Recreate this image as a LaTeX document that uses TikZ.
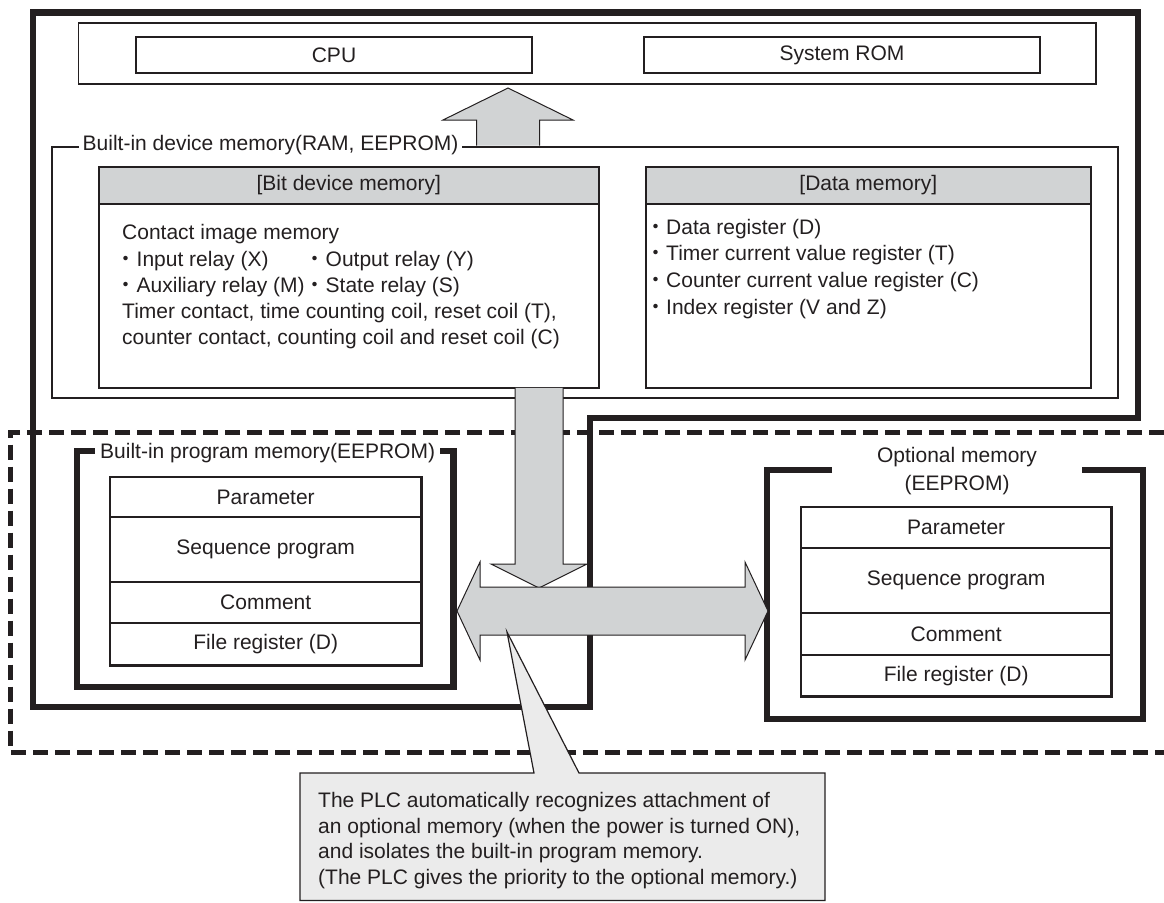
\documentclass[tikz,border=0pt]{standalone}
\usepackage{fontspec}
\setmainfont{Liberation Sans}
\newfontfamily\cjkfont{Noto Sans CJK JP}
\newcommand{\nakaguro}{{\cjkfont ・}}
\definecolor{ink}{HTML}{231F20}
\definecolor{blockgray}{HTML}{D1D3D4}
\definecolor{notegray}{HTML}{EBEBEB}

\tikzset{
  every node/.style={font=\fontsize{21}{26}\selectfont, text=ink, inner sep=0pt},
  heavyline/.style={draw=ink, line width=6.5pt},
  busline/.style={draw=ink, line width=5pt, dash pattern=on 15pt off 7pt},
  thinbox/.style={draw=ink, line width=1.3pt},
  areabox/.style={draw=ink, line width=2.6pt},
  membox/.style={draw=ink, line width=1.6pt},
  cellbox/.style={draw=ink, line width=2.4pt},
  rowrule/.style={draw=ink, line width=1.2pt},
  blockarrow/.style={fill=blockgray, draw=ink, line width=1pt},
  frametitle/.style={fill=white, anchor=base west, inner xsep=4pt, inner ysep=3pt},
  textline/.style={anchor=base west},
  cell/.style={anchor=north west, minimum width=#1, inner sep=0pt},
}

\begin{document}
\begin{tikzpicture}[x=1pt, y=-1pt]
\useasboundingbox (0,0) rectangle (1164,902);

% ---------- dashed boundary of the program memory area ----------
\draw[busline] (1164,432) -- (10.5,432) -- (10.5,752) -- (1164,752);

% ---------- main unit outline ----------
\draw[heavyline] (33,12.5) -- (1138,12.5) -- (1138,418) -- (590,418)
  -- (590,707) -- (33,707) -- cycle;

% ---------- CPU and system ROM ----------
\draw[thinbox] (78.5,23) rectangle (1096,84);
\node[thinbox, minimum width=396pt, minimum height=36pt] (cpu) at (334,55) {CPU};
\node[thinbox, minimum width=396pt, minimum height=36pt] (rom) at (842,55) {System ROM};

% ---------- built-in device memory ----------
\draw[areabox] (52,147) rectangle (1118,398);
\node[frametitle] (devtitle) at (78.5,150.5) {Built-in device memory(RAM, EEPROM)};

\node[membox, anchor=north west, minimum width=500pt, minimum height=221pt] (bitmem) at (98,166) {};
\node[membox, fill=blockgray, anchor=north west, minimum width=500pt, minimum height=37pt] (bithead) at (98,166) {[Bit device memory]};
\node[membox, anchor=north west, minimum width=445pt, minimum height=221pt] (datamem) at (645,166) {};
\node[membox, fill=blockgray, anchor=north west, minimum width=445pt, minimum height=37pt] (datahead) at (645,166) {[Data memory]};

\node[textline] (b1) at (122,239.5) {Contact image memory};
\node[textline] (b2) at (115.5,266.5) {\nakaguro Input relay (X)};
\node[textline] (b3) at (304.5,266.5) {\nakaguro Output relay (Y)};
\node[textline] (b4) at (115.5,292.5) {\nakaguro Auxiliary relay (M)};
\node[textline] (b5) at (304.5,292.5) {\nakaguro State relay (S)};
\node[textline] (b6) at (122,318.5) {Timer contact, time counting coil, reset coil (T),};
\node[textline] (b7) at (122,344.5) {counter contact, counting coil and reset coil (C)};

\node[textline] (d1) at (645,234.5) {\nakaguro Data register (D)};
\node[textline] (d2) at (645,260.5) {\nakaguro Timer current value register (T)};
\node[textline] (d3) at (645,287.5) {\nakaguro Counter current value register (C)};
\node[textline] (d4) at (645,314.5) {\nakaguro Index register (V and Z)};

% ---------- built-in program memory ----------
\draw[heavyline] (77,451) rectangle (453.5,687);
\node[frametitle, inner xsep=5pt] (progtitle) at (95,458.5) {Built-in program memory(EEPROM)};

\node[cell=311pt, minimum height=40pt] (lp) at (110,477) {Parameter};
\node[cell=311pt, minimum height=65pt] (ls) at (110,517) {Sequence program};
\node[cell=311pt, minimum height=41pt] (lc) at (110,582) {Comment};
\node[cell=311pt, minimum height=42pt] (lf) at (110,623) {File register (D)};
\draw[rowrule] (ls.north west) -- (ls.north east);
\draw[rowrule] (lc.north west) -- (lc.north east);
\draw[rowrule] (lf.north west) -- (lf.north east);
\draw[cellbox] (lp.north west) rectangle (lf.south east);

% ---------- optional memory ----------
\draw[heavyline] (832,470) -- (767,470) -- (767,719) -- (1143,719) -- (1143,470) -- (1082,470);
\node[anchor=base] (opttitle1) at (957,462.5) {Optional memory};
\node[anchor=base] (opttitle2) at (957,490.5) {(EEPROM)};

\node[cell=310pt, minimum height=41pt] (rp) at (801,507) {Parameter};
\node[cell=310pt, minimum height=65pt] (rs) at (801,548) {Sequence program};
\node[cell=310pt, minimum height=42pt] (rc) at (801,613) {Comment};
\node[cell=310pt, minimum height=41pt] (rf) at (801,655) {File register (D)};
\draw[rowrule] (rs.north west) -- (rs.north east);
\draw[rowrule] (rc.north west) -- (rc.north east);
\draw[rowrule] (rf.north west) -- (rf.north east);
\draw[cellbox] (rp.north west) rectangle (rf.south east);

% ---------- block arrows ----------
% device memory -> CPU
\draw[blockarrow] (476.5,145.7) -- (476.5,120) -- (443,120) -- (508,88)
  -- (573,120) -- (539.5,120) -- (539.5,145.7);
% bit device memory -> program memory bus
\draw[blockarrow] (515,387.8) -- (515,564) -- (491,564) -- (539,588)
  -- (587,564) -- (563,564) -- (563,387.8);
% bus between built-in and optional program memory
\coordinate (busL) at (457,611);
\coordinate (busR) at (768,611);
\draw[blockarrow] (busL) -- (480,562) -- (480,587) -- (745,587) -- (745,562)
  -- (busR) -- (745,660) -- (745,635) -- (480,635) -- (480,660) -- cycle;

% ---------- note ----------
\coordinate (notetip) at (507,632);
\draw[fill=notegray, draw=ink, line width=1.2pt] (300,773) -- (534,773) -- (notetip)
  -- (579,773) -- (825,773) -- (825,900.5) -- (300,900.5) -- cycle;
\node[textline] (n1) at (318,807) {The PLC automatically recognizes attachment of};
\node[textline] (n2) at (318,833) {an optional memory (when the power is turned ON),};
\node[textline] (n3) at (318,858.5) {and isolates the built-in program memory.};
\node[textline] (n4) at (318,884) {(The PLC gives the priority to the optional memory.)};
\end{tikzpicture}
\end{document}
